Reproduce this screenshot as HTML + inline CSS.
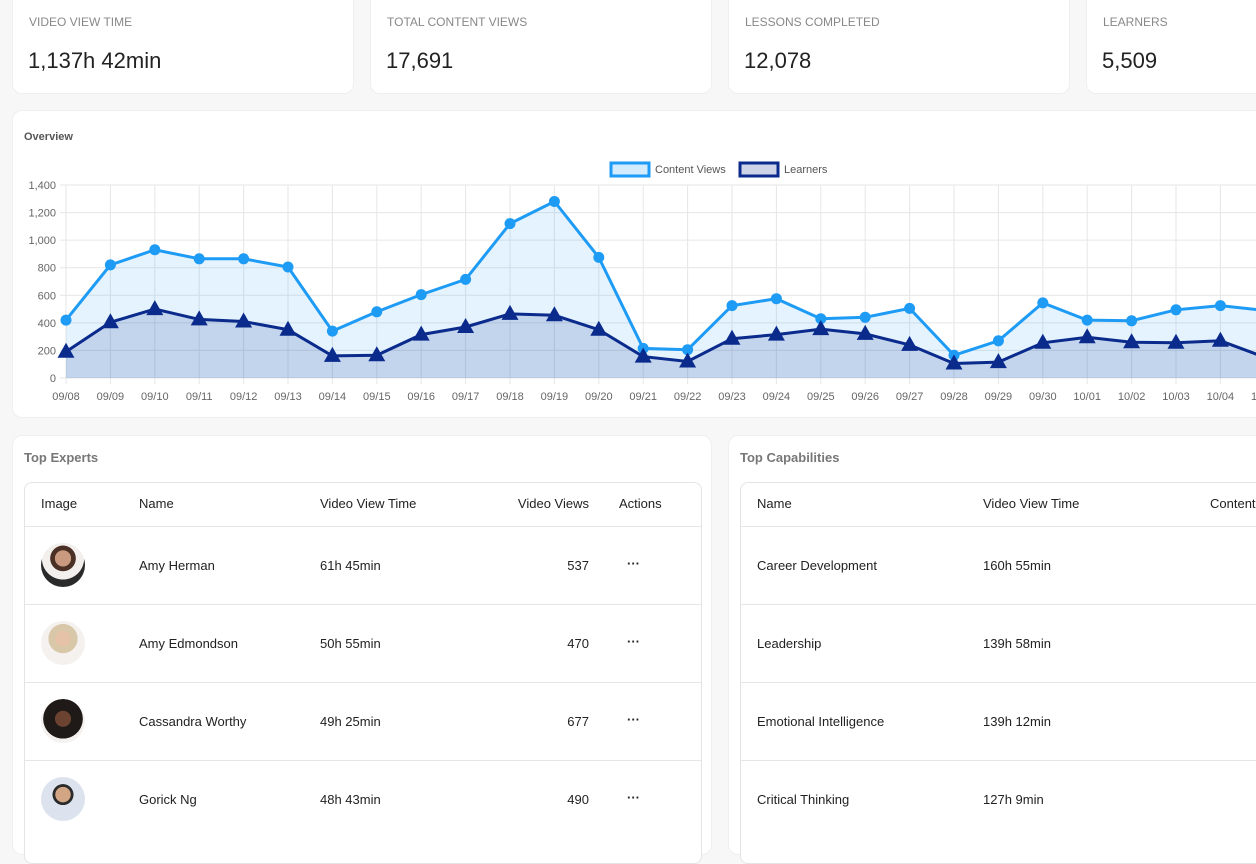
<!DOCTYPE html>
<html><head><meta charset="utf-8"><style>
body{margin:0;width:1256px;height:836px;overflow:hidden;background:#f7f7f7;font-family:"Liberation Sans",Arial,sans-serif;position:relative}
.card{position:absolute;background:#fff;border-radius:10px;border:1px solid #efefef;box-sizing:border-box}
.lbl{position:absolute;left:16px;top:14px;font-size:12px;color:#888}
.val{position:absolute;left:15px;top:47px;font-size:22px;color:#222}
.title{position:absolute;left:12px;font-size:13px;font-weight:bold;color:#777}
.tbl{position:absolute;border:1px solid #e4e4e4;border-radius:8px;background:#fff;overflow:hidden}
.row{position:absolute;left:0;right:0;border-top:1px solid #e6e6e6}
.t{position:absolute;font-size:13px;color:#222}
.av{position:absolute;left:16px;width:44px;height:44px;border-radius:50%}
</style></head><body>
<div class="card" style="left:12px;top:-10px;width:342px;height:104px"><div class="lbl" style="top:24px">VIDEO VIEW TIME</div><div class="val" style="top:57px">1,137h 42min</div></div>
<div class="card" style="left:370px;top:-10px;width:342px;height:104px"><div class="lbl" style="top:24px">TOTAL CONTENT VIEWS</div><div class="val" style="top:57px">17,691</div></div>
<div class="card" style="left:728px;top:-10px;width:342px;height:104px"><div class="lbl" style="top:24px">LESSONS COMPLETED</div><div class="val" style="top:57px">12,078</div></div>
<div class="card" style="left:1086px;top:-10px;width:200px;height:104px"><div class="lbl" style="top:24px">LEARNERS</div><div class="val" style="top:57px">5,509</div></div>

<div class="card" style="left:12px;top:110px;width:1280px;height:308px;border-right:none"></div>
<div class="title" style="left:24px;top:131px;font-size:11px;color:#555">Overview</div>
<svg style="position:absolute;left:0;top:0" width="1256" height="420" font-family="Liberation Sans, Arial, sans-serif">
<defs>
<marker id="c" markerWidth="14" markerHeight="14" refX="7" refY="7" markerUnits="userSpaceOnUse"><circle cx="7" cy="7" r="5.5" fill="#1e9bf5"/></marker>
<marker id="tr" markerWidth="18" markerHeight="18" refX="9" refY="10" markerUnits="userSpaceOnUse"><polygon points="9,1 17.5,16 0.5,16" fill="#0a2a8c"/></marker>
</defs>
<g stroke="#e6e6e6" stroke-width="1">
<line x1="60" y1="185" x2="1256" y2="185"/><line x1="60" y1="212.6" x2="1256" y2="212.6"/><line x1="60" y1="240.1" x2="1256" y2="240.1"/><line x1="60" y1="267.7" x2="1256" y2="267.7"/><line x1="60" y1="295.3" x2="1256" y2="295.3"/><line x1="60" y1="322.9" x2="1256" y2="322.9"/><line x1="60" y1="350.4" x2="1256" y2="350.4"/><line x1="60" y1="378" x2="1256" y2="378"/>
<line x1="66" y1="185" x2="66" y2="384"/><line x1="110.4" y1="185" x2="110.4" y2="384"/><line x1="154.8" y1="185" x2="154.8" y2="384"/><line x1="199.2" y1="185" x2="199.2" y2="384"/><line x1="243.6" y1="185" x2="243.6" y2="384"/><line x1="288" y1="185" x2="288" y2="384"/><line x1="332.4" y1="185" x2="332.4" y2="384"/><line x1="376.8" y1="185" x2="376.8" y2="384"/><line x1="421.2" y1="185" x2="421.2" y2="384"/><line x1="465.6" y1="185" x2="465.6" y2="384"/><line x1="510" y1="185" x2="510" y2="384"/><line x1="554.4" y1="185" x2="554.4" y2="384"/><line x1="598.8" y1="185" x2="598.8" y2="384"/><line x1="643.2" y1="185" x2="643.2" y2="384"/><line x1="687.6" y1="185" x2="687.6" y2="384"/><line x1="732" y1="185" x2="732" y2="384"/><line x1="776.4" y1="185" x2="776.4" y2="384"/><line x1="820.8" y1="185" x2="820.8" y2="384"/><line x1="865.2" y1="185" x2="865.2" y2="384"/><line x1="909.6" y1="185" x2="909.6" y2="384"/><line x1="954" y1="185" x2="954" y2="384"/><line x1="998.4" y1="185" x2="998.4" y2="384"/><line x1="1042.8" y1="185" x2="1042.8" y2="384"/><line x1="1087.2" y1="185" x2="1087.2" y2="384"/><line x1="1131.6" y1="185" x2="1131.6" y2="384"/><line x1="1176" y1="185" x2="1176" y2="384"/><line x1="1220.4" y1="185" x2="1220.4" y2="384"/>
</g>
<polygon fill="rgba(30,155,245,0.12)" points="66,378 66,320.1 110.4,264.9 154.8,249.8 199.2,258.8 243.6,258.8 288,267 332.4,331.1 376.8,311.8 421.2,294.6 465.6,279.4 510,223.6 554.4,201.5 598.8,257.4 643.2,348.4 687.6,349.7 732,305.6 776.4,298.7 820.8,318.7 865.2,317.3 909.6,308.4 954,355.3 998.4,340.8 1042.8,302.9 1087.2,320.1 1131.6,320.8 1176,309.8 1220.4,305.6 1264.8,310.4 1264.8,378"/>
<polygon fill="rgba(10,42,140,0.15)" points="66,378 66,351.8 110.4,322.2 154.8,309.1 199.2,319.4 243.6,321.5 288,329.7 332.4,355.9 376.8,355.3 421.2,334.6 465.6,327 510,313.9 554.4,315.3 598.8,329.7 643.2,356.6 687.6,361.5 732,338.7 776.4,334.6 820.8,329.1 865.2,333.9 909.6,344.9 954,363.5 998.4,362.1 1042.8,342.8 1087.2,337.3 1131.6,342.2 1176,342.8 1220.4,340.8 1264.8,357.3 1264.8,378"/>
<polyline fill="none" stroke="#1e9bf5" stroke-width="3" marker-start="url(#c)" marker-mid="url(#c)" marker-end="url(#c)" points="66,320.1 110.4,264.9 154.8,249.8 199.2,258.8 243.6,258.8 288,267 332.4,331.1 376.8,311.8 421.2,294.6 465.6,279.4 510,223.6 554.4,201.5 598.8,257.4 643.2,348.4 687.6,349.7 732,305.6 776.4,298.7 820.8,318.7 865.2,317.3 909.6,308.4 954,355.3 998.4,340.8 1042.8,302.9 1087.2,320.1 1131.6,320.8 1176,309.8 1220.4,305.6 1264.8,310.4"/>
<polyline fill="none" stroke="#0a2a8c" stroke-width="3" marker-start="url(#tr)" marker-mid="url(#tr)" marker-end="url(#tr)" points="66,351.8 110.4,322.2 154.8,309.1 199.2,319.4 243.6,321.5 288,329.7 332.4,355.9 376.8,355.3 421.2,334.6 465.6,327 510,313.9 554.4,315.3 598.8,329.7 643.2,356.6 687.6,361.5 732,338.7 776.4,334.6 820.8,329.1 865.2,333.9 909.6,344.9 954,363.5 998.4,362.1 1042.8,342.8 1087.2,337.3 1131.6,342.2 1176,342.8 1220.4,340.8 1264.8,357.3"/>
<g font-size="11" fill="#666" text-anchor="end">
<text x="56" y="189">1,400</text><text x="56" y="216.6">1,200</text><text x="56" y="244.1">1,000</text><text x="56" y="271.7">800</text><text x="56" y="299.3">600</text><text x="56" y="326.9">400</text><text x="56" y="354.4">200</text><text x="56" y="382">0</text>
</g>
<g font-size="11" fill="#666" text-anchor="middle">
<text x="66" y="400">09/08</text><text x="110.4" y="400">09/09</text><text x="154.8" y="400">09/10</text><text x="199.2" y="400">09/11</text><text x="243.6" y="400">09/12</text><text x="288" y="400">09/13</text><text x="332.4" y="400">09/14</text><text x="376.8" y="400">09/15</text><text x="421.2" y="400">09/16</text><text x="465.6" y="400">09/17</text><text x="510" y="400">09/18</text><text x="554.4" y="400">09/19</text><text x="598.8" y="400">09/20</text><text x="643.2" y="400">09/21</text><text x="687.6" y="400">09/22</text><text x="732" y="400">09/23</text><text x="776.4" y="400">09/24</text><text x="820.8" y="400">09/25</text><text x="865.2" y="400">09/26</text><text x="909.6" y="400">09/27</text><text x="954" y="400">09/28</text><text x="998.4" y="400">09/29</text><text x="1042.8" y="400">09/30</text><text x="1087.2" y="400">10/01</text><text x="1131.6" y="400">10/02</text><text x="1176" y="400">10/03</text><text x="1220.4" y="400">10/04</text><text x="1264.8" y="400">10/05</text>
</g>
<rect x="611" y="163" width="38" height="13" fill="rgba(30,155,245,0.2)" stroke="#1e9bf5" stroke-width="3"/>
<text x="655" y="173" font-size="11" fill="#555">Content Views</text>
<rect x="740" y="163" width="38" height="13" fill="rgba(10,42,140,0.2)" stroke="#0a2a8c" stroke-width="3"/>
<text x="784" y="173" font-size="11" fill="#555">Learners</text>
</svg>

<div class="card" style="left:12px;top:435px;width:700px;height:420px"></div>
<div class="title" style="left:24px;top:450px">Top Experts</div>
<div class="tbl" style="left:24px;top:482px;width:676px;height:380px">
<div class="t" style="left:16px;top:13px">Image</div><div class="t" style="left:114px;top:13px">Name</div><div class="t" style="left:295px;top:13px">Video View Time</div><div class="t" style="right:112px;top:13px">Video Views</div><div class="t" style="left:594px;top:13px">Actions</div>
<div class="row" style="top:43px"></div><div class="row" style="top:121px"></div><div class="row" style="top:199px"></div><div class="row" style="top:277px"></div>
<div class="av" style="top:60px;background:radial-gradient(circle at 50% 35%,#c99a80 0 22%,#4a3025 23% 35%,#f2efec 36% 58%,#2a2a2a 59%)"></div>
<div class="t" style="left:114px;top:75px">Amy Herman</div><div class="t" style="left:295px;top:75px">61h 45min</div><div class="t" style="right:112px;top:75px">537</div><div class="t" style="left:602px;top:73px;font-weight:bold">···</div>
<div class="av" style="top:138px;background:radial-gradient(circle at 50% 40%,#e6c2a8 0 22%,#d8c7a8 23% 42%,#f4f1ee 43%)"></div>
<div class="t" style="left:114px;top:153px">Amy Edmondson</div><div class="t" style="left:295px;top:153px">50h 55min</div><div class="t" style="right:112px;top:153px">470</div><div class="t" style="left:602px;top:151px;font-weight:bold">···</div>
<div class="av" style="top:216px;background:radial-gradient(circle at 50% 45%,#6b4330 0 24%,#1f1a17 25% 60%,#f4f1ee 61%)"></div>
<div class="t" style="left:114px;top:231px">Cassandra Worthy</div><div class="t" style="left:295px;top:231px">49h 25min</div><div class="t" style="right:112px;top:231px">677</div><div class="t" style="left:602px;top:229px;font-weight:bold">···</div>
<div class="av" style="top:294px;background:radial-gradient(circle at 50% 40%,#d2a585 0 22%,#2a2a2a 23% 30%,#dde3ee 31%)"></div>
<div class="t" style="left:114px;top:309px">Gorick Ng</div><div class="t" style="left:295px;top:309px">48h 43min</div><div class="t" style="right:112px;top:309px">490</div><div class="t" style="left:602px;top:307px;font-weight:bold">···</div>
</div>

<div class="card" style="left:728px;top:435px;width:600px;height:420px"></div>
<div class="title" style="left:740px;top:450px">Top Capabilities</div>
<div class="tbl" style="left:740px;top:482px;width:600px;height:380px">
<div class="t" style="left:16px;top:13px">Name</div><div class="t" style="left:242px;top:13px">Video View Time</div><div class="t" style="left:469px;top:13px">Content</div>
<div class="row" style="top:43px"></div><div class="row" style="top:121px"></div><div class="row" style="top:199px"></div><div class="row" style="top:277px"></div>
<div class="t" style="left:16px;top:75px">Career Development</div><div class="t" style="left:242px;top:75px">160h 55min</div>
<div class="t" style="left:16px;top:153px">Leadership</div><div class="t" style="left:242px;top:153px">139h 58min</div>
<div class="t" style="left:16px;top:231px">Emotional Intelligence</div><div class="t" style="left:242px;top:231px">139h 12min</div>
<div class="t" style="left:16px;top:309px">Critical Thinking</div><div class="t" style="left:242px;top:309px">127h 9min</div>
</div>
</body></html>
